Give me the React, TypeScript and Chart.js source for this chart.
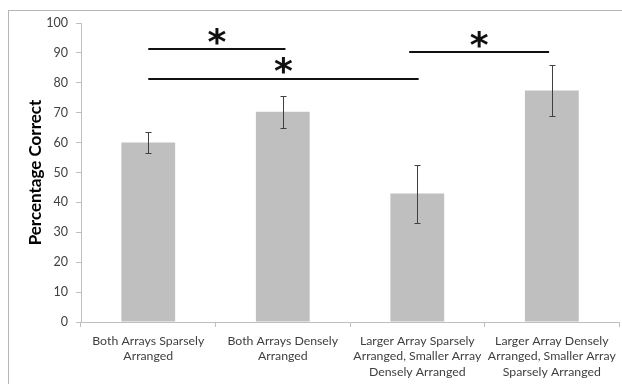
import React, { useEffect, useRef } from "react";
import { Chart, registerables } from "chart.js";

Chart.register(...registerables);

const categories: string[][] = [
  ["Both Arrays Sparsely", "Arranged"],
  ["Both Arrays Densely", "Arranged"],
  ["Larger Array Sparsely", "Arranged, Smaller Array", "Densely Arranged"],
  ["Larger Array Densely", "Arranged, Smaller Array", "Sparsely Arranged"],
];
const percentCorrect = [60, 70.3, 43, 77.4];
const errorLow = [56.5, 65, 33.2, 69];
const errorHigh = [63.6, 75.5, 52.6, 86];

const sigStart = [0, 0, 1.94];
const sigEnd = [1.02, 2.01, 2.98];
const sigLevel = [91.3, 81.3, 90.3];
const sigMark = ["*", "*", "*"];

const yMin = 0;
const yMax = 100;
const yStep = 10;

const FONT = "Lato, 'Open Sans', sans-serif";

const errorBarPlugin = {
  id: "errorBars",
  afterDatasetsDraw(chart: any) {
    const { ctx, scales } = chart;
    const xs = scales.x;
    const ys = scales.y;
    ctx.save();
    ctx.strokeStyle = "#404040";
    ctx.lineWidth = 1;
    for (let i = 0; i < percentCorrect.length; i++) {
      const x = Math.round(xs.getPixelForValue(i)) + 0.5;
      const yl = Math.round(ys.getPixelForValue(errorLow[i])) + 0.5;
      const yh = Math.round(ys.getPixelForValue(errorHigh[i])) + 0.5;
      ctx.beginPath();
      ctx.moveTo(x, yl);
      ctx.lineTo(x, yh);
      ctx.moveTo(x - 3, yl);
      ctx.lineTo(x + 3, yl);
      ctx.moveTo(x - 3, yh);
      ctx.lineTo(x + 3, yh);
      ctx.stroke();
    }
    ctx.restore();
  },
};

const sigPlugin = {
  id: "significance",
  afterDraw(chart: any) {
    const { ctx, scales } = chart;
    const xs = scales.x;
    const ys = scales.y;
    ctx.save();
    for (let k = 0; k < sigLevel.length; k++) {
      const x1 = xs.getPixelForValue(sigStart[k]);
      const x2 = xs.getPixelForValue(sigEnd[k]);
      const y = ys.getPixelForValue(sigLevel[k]);
      ctx.strokeStyle = "#111111";
      ctx.lineWidth = 2;
      ctx.beginPath();
      ctx.moveTo(x1, y);
      ctx.lineTo(x2, y);
      ctx.stroke();
      ctx.font = "bold 36px 'DejaVu Sans'";
      ctx.fillStyle = "#111111";
      ctx.textAlign = "center";
      ctx.textBaseline = "alphabetic";
      const m = ctx.measureText(sigMark[k]);
      const asc = m.actualBoundingBoxAscent;
      const desc = m.actualBoundingBoxDescent;
      const cy = y - 13;
      ctx.fillText(sigMark[k], (x1 + x2) / 2, cy + (asc - desc) / 2);
    }
    ctx.restore();
  },
};

export default function App() {
  const ref = useRef<HTMLCanvasElement | null>(null);
  useEffect(() => {
    if (!ref.current) return;
    const chart = new Chart(ref.current, {
      type: "bar",
      data: {
        labels: categories,
        datasets: [
          {
            data: percentCorrect,
            backgroundColor: "#bfbfbf",
            borderWidth: 0,
            barPercentage: 0.4,
            categoryPercentage: 1,
          },
        ],
      },
      options: {
        responsive: false,
        animation: false,
        layout: { padding: { top: 23, right: 2, left: 0, bottom: 0 } },
        plugins: {
          legend: { display: false },
          tooltip: { enabled: false },
        },
        scales: {
          x: {
            grid: {
              drawOnChartArea: false,
              drawTicks: true,
              tickLength: 5,
              color: "#bfbfbf",
              offset: true,
            },
            border: { color: "#bfbfbf" },
            ticks: {
              color: "#404040",
              font: { family: FONT, size: 12.3, lineHeight: 1.27 },
              padding: 6,
              maxRotation: 0,
              autoSkip: false,
            },
            afterFit(scale: any) {
              scale.height = 62;
            },
          },
          y: {
            min: yMin,
            max: yMax,
            grid: {
              drawOnChartArea: false,
              drawTicks: true,
              tickLength: 5,
              color: "#bfbfbf",
            },
            border: { color: "#bfbfbf" },
            ticks: {
              stepSize: yStep,
              color: "#404040",
              font: { family: FONT, size: 12.5 },
              padding: 8,
            },
            title: {
              display: true,
              text: "Percentage Correct",
              color: "#000000",
              font: { family: FONT, size: 17, weight: "bold" },
              padding: { top: 25, bottom: 0 },
            },
            afterFit(scale: any) {
              scale.width = 81;
            },
          },
        },
      },
      plugins: [errorBarPlugin, sigPlugin],
    });
    return () => chart.destroy();
  }, []);

  return (
    <div
      style={{
        position: "fixed",
        left: 0,
        top: 0,
        width: 622,
        height: 384,
        overflow: "hidden",
        background: "#ffffff",
      }}
    >
      <div
        style={{
          position: "absolute",
          left: 8,
          top: 10,
          width: 800,
          height: 600,
          border: "1px solid #b5b5b5",
        }}
      />
      <canvas
        ref={ref}
        width={622}
        height={384}
        style={{ position: "absolute", left: 0, top: 0, width: 622, height: 384 }}
      />
    </div>
  );
}
